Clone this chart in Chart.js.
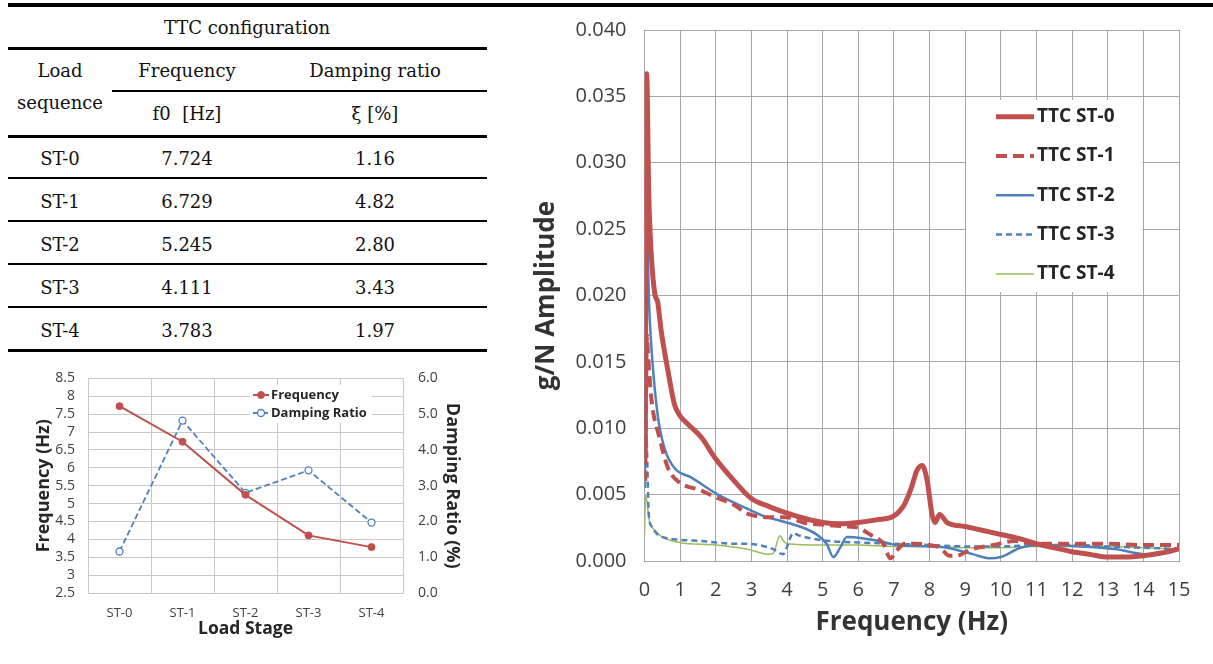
<!DOCTYPE html>
<html>
<head>
<meta charset="utf-8">
<script src="https://cdn.jsdelivr.net/npm/chart.js@4.4.1/dist/chart.umd.min.js"></script>
<style>
  body { margin: 0; background: #fff; width: 1213px; height: 664px; overflow: hidden; position: relative; font-family: "DejaVu Serif", serif; }
  .rule { position: absolute; background: #000; }
  .cell { position: absolute; transform: translate(-50%, -50%); font-size: 18px; color: #111; white-space: pre; }
  canvas { position: absolute; }
</style>
</head>
<body>
<div id="table"></div>
<canvas id="stage" width="500" height="295" style="left:0;top:355px"></canvas>
<canvas id="fft" width="693" height="664" style="left:520px;top:0"></canvas>
<script>
// load stages (table + small chart)
var stages = ['ST-0', 'ST-1', 'ST-2', 'ST-3', 'ST-4'];
var frequency = [7.724, 6.729, 5.245, 4.111, 3.783];
var damping = [1.16, 4.82, 2.80, 3.43, 1.97];

// FFT curves (Hz / g/N)
var hzST0 = [0.02, 0.06, 0.12, 0.28, 0.37, 0.47, 0.66, 0.84, 0.98, 1.22, 1.6, 1.97, 2.53, 3.0, 3.5, 4.0, 4.5, 5.0, 5.5, 6.0, 6.5, 7.0, 7.3, 7.5, 7.64, 7.79, 7.93, 8.07, 8.15, 8.28, 8.49, 9.0, 9.5, 10.0, 10.5, 11.0, 11.5, 12.0, 12.5, 13.0, 13.5, 14.0, 14.5, 15.0];
var ampST0 = [0.008, 0.0367, 0.0276, 0.0203, 0.0195, 0.0173, 0.0143, 0.0118, 0.0110, 0.0103, 0.0093, 0.0078, 0.0060, 0.0047, 0.0041, 0.0036, 0.0032, 0.0029, 0.0028, 0.0029, 0.0031, 0.0034, 0.0043, 0.0056, 0.0068, 0.0072, 0.0061, 0.0035, 0.0029, 0.0035, 0.0029, 0.0026, 0.0023, 0.0020, 0.0017, 0.0013, 0.0010, 0.0007, 0.0005, 0.0003, 0.0003, 0.0004, 0.0006, 0.0009];

var hzST1 = [0.02, 0.07, 0.09, 0.19, 0.42, 0.66, 0.94, 1.6, 2.0, 2.53, 2.86, 3.5, 4.0, 4.45, 5.2, 5.7, 6.0, 6.33, 6.7, 6.9, 7.08, 7.3, 7.6, 8.0, 8.3, 8.55, 8.75, 9.2, 9.8, 10.1, 10.4, 11.0, 11.5, 12.0, 13.0, 14.0, 15.0];
var ampST1 = [0.0060, 0.017, 0.016, 0.0123, 0.0093, 0.0070, 0.0060, 0.0053, 0.0048, 0.0042, 0.0036, 0.0033, 0.0033, 0.0029, 0.0027, 0.0026, 0.0025, 0.0020, 0.0013, 0.0002, 0.0008, 0.0013, 0.0013, 0.0012, 0.0010, 0.0004, 0.0004, 0.0009, 0.0012, 0.0014, 0.0015, 0.0013, 0.0013, 0.0013, 0.0013, 0.0012, 0.0012];

var hzST2 = [0.01, 0.06, 0.14, 0.23, 0.37, 0.56, 0.84, 1.31, 2.06, 3.0, 3.33, 3.99, 4.46, 4.83, 5.11, 5.3, 5.49, 5.68, 6.15, 6.61, 7.08, 8.0, 8.49, 9.23, 9.7, 10.0, 10.55, 11.03, 12.24, 13.2, 14.1, 14.7, 15.0];
var ampST2 = [0.006, 0.0248, 0.0186, 0.0148, 0.0110, 0.0085, 0.0070, 0.0063, 0.0050, 0.0038, 0.0034, 0.0029, 0.0025, 0.0020, 0.0013, 0.0003, 0.0010, 0.0018, 0.0017, 0.0015, 0.0012, 0.0011, 0.0010, 0.0005, 0.0002, 0.0003, 0.0010, 0.0012, 0.0011, 0.0009, 0.0005, 0.0006, 0.0009];

var hzST3 = [0.01, 0.05, 0.12, 0.2, 0.37, 0.66, 0.98, 1.6, 2.53, 2.86, 3.61, 3.89, 3.99, 4.17, 4.36, 5.2, 6.0, 7.0, 8.0, 9.0, 10.0, 11.0, 12.0, 13.0, 14.0, 15.0];
var ampST3 = [0.0055, 0.0095, 0.0035, 0.0026, 0.0020, 0.0017, 0.0016, 0.0015, 0.0013, 0.0013, 0.0009, 0.0005, 0.0010, 0.0021, 0.0019, 0.0015, 0.0014, 0.0013, 0.0012, 0.0011, 0.0011, 0.0012, 0.0012, 0.0011, 0.0010, 0.0009];

var hzST4 = [0.0, 0.03, 0.14, 0.3, 0.5, 0.98, 2.0, 2.86, 3.52, 3.62, 3.8, 3.9, 4.0, 5.0, 6.0, 7.0, 8.0, 9.0, 10.0, 11.0, 12.0, 13.0, 14.0, 15.0];
var ampST4 = [0.0020, 0.0050, 0.0030, 0.0023, 0.0018, 0.0014, 0.0012, 0.0009, 0.0005, 0.0006, 0.0019, 0.0015, 0.0013, 0.0012, 0.0012, 0.0011, 0.0011, 0.0010, 0.0010, 0.0011, 0.0011, 0.0011, 0.0010, 0.0009];

var red = '#C0504D', blue = '#4F81BD', green = '#9BBB59';

// ---- table ----
var tbl = document.getElementById('table');
function rule(x, y, w, h) {
  var d = document.createElement('div');
  d.className = 'rule';
  d.style.cssText = 'left:' + x + 'px;top:' + y + 'px;width:' + w + 'px;height:' + h + 'px';
  tbl.appendChild(d);
}
function cell(txt, x, y) {
  var d = document.createElement('div');
  d.className = 'cell';
  d.textContent = txt;
  d.style.left = x + 'px';
  d.style.top = y + 'px';
  tbl.appendChild(d);
}
rule(8, 3, 1205, 4);
rule(8, 47, 479, 3);
rule(112, 90, 375, 2);
rule(8, 135, 479, 3);
cell('TTC configuration', 247, 27);
cell('Load', 60, 70);
cell('sequence', 60, 102);
cell('Frequency', 187, 70);
cell('Damping ratio', 375, 70);
cell('f0  [Hz]', 187, 113);
cell('\u03be [%]', 375, 113);
stages.forEach(function (s, i) {
  var y = 158 + i * 43;
  cell(s, 60, y);
  cell(frequency[i].toFixed(3), 187, y);
  cell(damping[i].toFixed(2), 375, y);
  if (i < stages.length - 1) rule(8, y + 19, 479, 2);
});
rule(8, 349, 479, 3);

// ---- legend drawn inside the plot ----
var insetLegend = {
  id: 'insetLegend',
  afterDraw: function (chart, args, o) {
    var ctx = chart.ctx;
    ctx.save();
    if (o.box) {
      ctx.fillStyle = '#fff';
      ctx.fillRect(o.box[0], o.box[1], o.box[2], o.box[3]);
    }
    chart.data.datasets.forEach(function (ds, i) {
      var y = o.y + i * o.gap;
      ctx.strokeStyle = ds.borderColor;
      ctx.lineWidth = ds.borderWidth;
      ctx.setLineDash(ds.borderDash || []);
      ctx.beginPath();
      ctx.moveTo(o.x, y);
      ctx.lineTo(o.x + o.len, y);
      ctx.stroke();
      ctx.setLineDash([]);
      if (ds.pointRadius) {
        ctx.beginPath();
        ctx.arc(o.x + o.len / 2, y, ds.pointRadius, 0, Math.PI * 2);
        ctx.fillStyle = ds.pointBackgroundColor;
        ctx.fill();
        ctx.lineWidth = ds.pointBorderWidth;
        ctx.strokeStyle = ds.pointBorderColor;
        ctx.stroke();
      }
      ctx.fillStyle = o.color;
      ctx.font = o.font;
      ctx.textBaseline = 'middle';
      ctx.fillText(ds.label, o.x + o.len + o.textGap, y);
    });
    ctx.restore();
  }
};

Chart.defaults.font.family = '"Open Sans", sans-serif';
Chart.defaults.color = '#404040';

// ---- small chart: frequency & damping per stage ----
var lightGrid = '#c8c8c8';
new Chart(document.getElementById('stage'), {
  type: 'line',
  data: {
    labels: stages,
    datasets: [{
      label: 'Frequency',
      data: frequency,
      yAxisID: 'yL',
      borderColor: red,
      borderWidth: 2,
      pointRadius: 3.5,
      pointBackgroundColor: red,
      pointBorderColor: red,
      pointBorderWidth: 1
    }, {
      label: 'Damping Ratio',
      data: damping,
      yAxisID: 'yR',
      borderColor: blue,
      borderWidth: 1.8,
      borderDash: [6, 3],
      pointRadius: 3.5,
      pointBackgroundColor: '#fff',
      pointBorderColor: blue,
      pointBorderWidth: 1.3
    }]
  },
  options: {
    responsive: false,
    animation: false,
    layout: { padding: { left: 26, right: 30, top: 12, bottom: 0 } },
    plugins: {
      legend: { display: false },
      tooltip: { enabled: false },
      insetLegend: { x: 253, y: 40, gap: 18, len: 16, textGap: 2, font: 'bold 13px "Open Sans"', color: '#262626', box: [250, 30, 122, 38] }
    },
    scales: {
      x: {
        offset: true,
        grid: { offset: true, color: lightGrid, drawTicks: false },
        border: { color: lightGrid },
        ticks: { padding: 12, font: { size: 13 } },
        title: { display: true, text: 'Load Stage', color: '#262626', font: { size: 17.5, weight: 'bold' }, padding: { top: 0, bottom: 10 } },
        afterFit: function (s) { s.height = 57; }
      },
      yL: {
        position: 'left',
        min: 2.5,
        max: 8.5,
        grid: { color: lightGrid, drawTicks: false },
        border: { color: lightGrid },
        ticks: { stepSize: 0.5, autoSkip: false, padding: 13, font: { size: 14 }, callback: function (v) { return String(v); } },
        title: { display: true, text: 'Frequency (Hz)', color: '#262626', font: { size: 18, weight: 'bold' }, padding: { top: 7, bottom: 0 } },
        afterFit: function (s) { s.width = 62; }
      },
      yR: {
        position: 'right',
        min: 0,
        max: 6,
        grid: { drawOnChartArea: false, drawTicks: false },
        border: { color: lightGrid },
        ticks: { stepSize: 1, autoSkip: false, padding: 15, font: { size: 14 }, callback: function (v) { return v.toFixed(1); } },
        title: { display: true, text: 'Damping Ratio (%)', color: '#262626', font: { size: 18, weight: 'bold' }, padding: { top: 7, bottom: 0 } },
        afterFit: function (s) { s.width = 67; }
      }
    }
  },
  plugins: [insetLegend]
});

// ---- big chart: FFT amplitude ----
function pts(xs, ys) {
  return xs.map(function (x, i) { return { x: x, y: ys[i] }; });
}
var grid = '#a6a6a6';
new Chart(document.getElementById('fft'), {
  type: 'line',
  data: {
    datasets: [
      { label: 'TTC ST-0', data: pts(hzST0, ampST0), borderColor: red, borderWidth: 5 },
      { label: 'TTC ST-1', data: pts(hzST1, ampST1), borderColor: red, borderWidth: 4, borderDash: [11, 6] },
      { label: 'TTC ST-2', data: pts(hzST2, ampST2), borderColor: blue, borderWidth: 2.5 },
      { label: 'TTC ST-3', data: pts(hzST3, ampST3), borderColor: blue, borderWidth: 2.5, borderDash: [6, 4] },
      { label: 'TTC ST-4', data: pts(hzST4, ampST4), borderColor: green, borderWidth: 1.5 }
    ]
  },
  options: {
    responsive: false,
    animation: false,
    cubicInterpolationMode: 'monotone',
    elements: { point: { radius: 0 } },
    layout: { padding: { left: 0, right: 34, top: 29.5, bottom: 0 } },
    plugins: {
      legend: { display: false },
      tooltip: { enabled: false },
      insetLegend: { x: 476, y: 116.7, gap: 39.3, len: 38, textGap: 3, font: 'bold 19px "Open Sans"', color: '#262626', box: [446, 100, 176, 192] }
    },
    scales: {
      x: {
        type: 'linear',
        min: 0,
        max: 15,
        grid: { color: grid, drawTicks: false },
        border: { color: grid },
        ticks: { stepSize: 1, padding: 17, font: { size: 20 } },
        title: { display: true, text: 'Frequency (Hz)', color: '#333', font: { size: 26, weight: 'bold' }, padding: { top: 0, bottom: 26 } },
        afterFit: function (s) { s.height = 103; }
      },
      y: {
        min: 0,
        max: 0.04,
        grid: { color: grid, drawTicks: false },
        border: { color: grid },
        ticks: { stepSize: 0.005, padding: 18, font: { size: 20 }, callback: function (v) { return v.toFixed(3); } },
        title: { display: true, text: 'g/N Amplitude', color: '#333', font: { size: 26, weight: 'bold' }, padding: { top: 11, bottom: 0 } },
        afterFit: function (s) { s.width = 124.5; }
      }
    }
  },
  plugins: [insetLegend]
});
</script>
</body>
</html>
